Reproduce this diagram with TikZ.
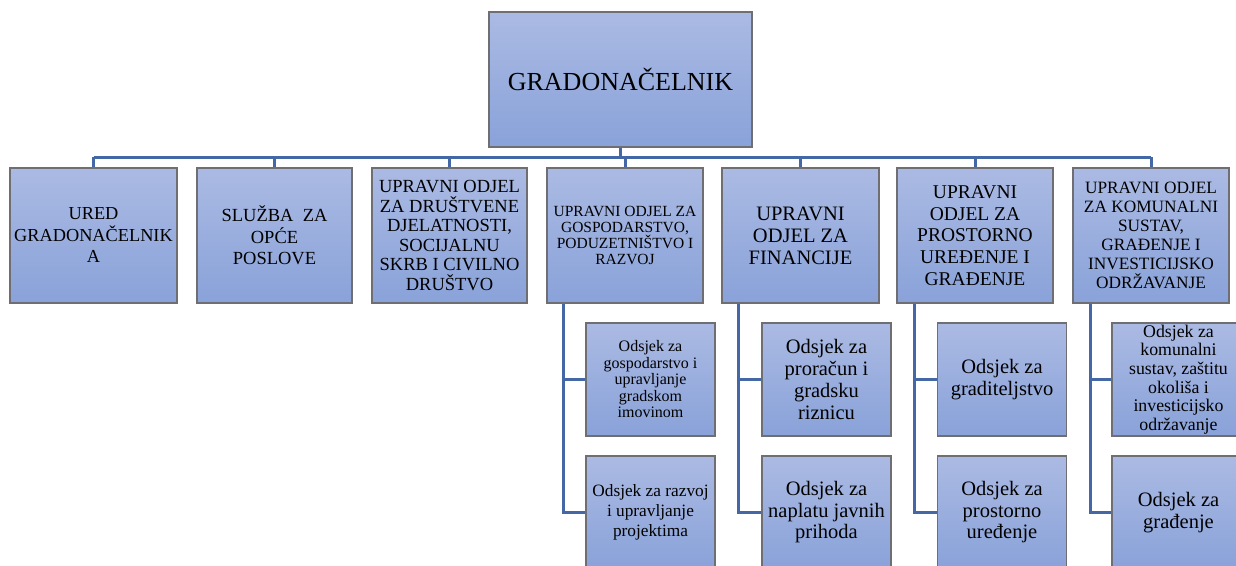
\documentclass[tikz,border=0pt]{standalone}
\usepackage{fontspec}
\setmainfont{Liberation Serif}
\newfontfamily\orgfont{Liberation Serif}
\definecolor{boxtop}{RGB}{171,186,227}
\definecolor{boxbot}{RGB}{137,162,217}
\definecolor{boxedge}{RGB}{110,110,115}
\definecolor{linkblue}{RGB}{68,104,166}
\tikzset{
  orgbox/.style={draw=boxedge, line width=1.3pt, top color=boxtop, bottom color=boxbot,
    inner sep=0pt, align=center, anchor=center, text=black},
  lvl/.style={orgbox, minimum width=#1, minimum height=135pt},
  sub/.style={orgbox, minimum width=129pt, minimum height=113pt},
  wsub/.style={orgbox, minimum width=133pt, minimum height=113pt},
  link/.style={draw=linkblue, line width=3pt, line join=miter},
  fs/.style 2 args={font=\orgfont\fontsize{#1}{#2}\selectfont},
}
\begin{document}
\begin{tikzpicture}[x=1pt, y=-1pt]
\useasboundingbox (0,0) rectangle (1236,565);
\clip (0,0) rectangle (1236,565);

% top
\node[orgbox, minimum width=263pt, minimum height=135pt, fs={26}{30}] (top) at (620.5,79.5) {GRADONAČELNIK};

% level 1
\node[lvl=167pt, fs={18.3}{21.5}] (b1) at (93.5,235.5) {URED\\GRADONAČELNIK\\A};
\node[lvl=155pt, fs={18.5}{21.5}] (b2) at (274.5,235.5) {SLUŽBA\ \ ZA\\OPĆE\\POSLOVE};
\node[lvl=155pt, fs={18.5}{19.5}] (b3) at (449.5,235.5) {UPRAVNI ODJEL\\ZA DRUŠTVENE\\DJELATNOSTI,\\SOCIJALNU\\SKRB I CIVILNO\\DRUŠTVO};
\node[lvl=156pt, fs={15.5}{15.8}] (b4) at (625,235.5) {UPRAVNI ODJEL ZA\\GOSPODARSTVO,\\PODUZETNIŠTVO I\\RAZVOJ};
\node[lvl=157pt, fs={20.5}{22}] (b5) at (800.5,235.5) {UPRAVNI\\ODJEL ZA\\FINANCIJE};
\node[lvl=156pt, fs={19.5}{21.8}] (b6) at (975,235.5) {UPRAVNI\\ODJEL ZA\\PROSTORNO\\UREĐENJE I\\GRAĐENJE};
\node[lvl=156pt, fs={17.3}{19}] (b7) at (1151,235.5) {UPRAVNI ODJEL\\ZA KOMUNALNI\\SUSTAV,\\GRAĐENJE I\\INVESTICIJSKO\\ODRŽAVANJE};

% sub-units
\node[sub, fs={16}{16.5}] (s4a) at (650.5,379.5) {Odsjek za\\gospodarstvo i\\upravljanje\\gradskom\\imovinom};
\node[sub, fs={17.3}{20}] (s4b) at (650.5,512.5) {Odsjek za razvoj\\i upravljanje\\projektima};
\node[sub, fs={20.5}{21.7}] (s5a) at (826.5,379.5) {Odsjek za\\proračun i\\gradsku\\riznicu};
\node[sub, fs={20.5}{21.5}] (s5b) at (826.5,512.5) {Odsjek za\\naplatu javnih\\prihoda};
\node[sub, fs={20.5}{21.5}] (s6a) at (1002,379.5) {Odsjek za\\graditeljstvo};
\node[sub, fs={20.5}{21.5}] (s6b) at (1002,512.5) {Odsjek za\\prostorno\\uređenje};
\node[wsub, fs={17.8}{18.6}] (s7a) at (1178.5,379.5) {Odsjek za\\komunalni\\sustav, zaštitu\\okoliša i\\investicijsko\\održavanje};
\node[wsub, fs={20.5}{21.5}] (s7b) at (1178.5,512.5) {Odsjek za\\građenje};

% connectors level 0 -> 1
\coordinate (bus) at (0,157);
\draw[link] (top.south) -- (top.south |- bus);
\draw[link] (b1.north |- bus) -- (b7.north |- bus);
\foreach \b in {b1,b2,b3,b4,b5,b6,b7}
  \draw[link] (\b.north) -- (\b.north |- bus);

% connectors level 1 -> 2
\coordinate (l4) at (563,0);
\coordinate (l5) at (738,0);
\coordinate (l6) at (914,0);
\coordinate (l7) at (1090,0);
\foreach \c/\p/\a/\z in {4/b4/s4a/s4b, 5/b5/s5a/s5b, 6/b6/s6a/s6b, 7/b7/s7a/s7b}{
  \draw[link] (l\c |- \p.south) -- (l\c |- \z.west) -- (\z.west);
  \draw[link] (l\c |- \a.west) -- (\a.west);
}
\end{tikzpicture}
\end{document}
